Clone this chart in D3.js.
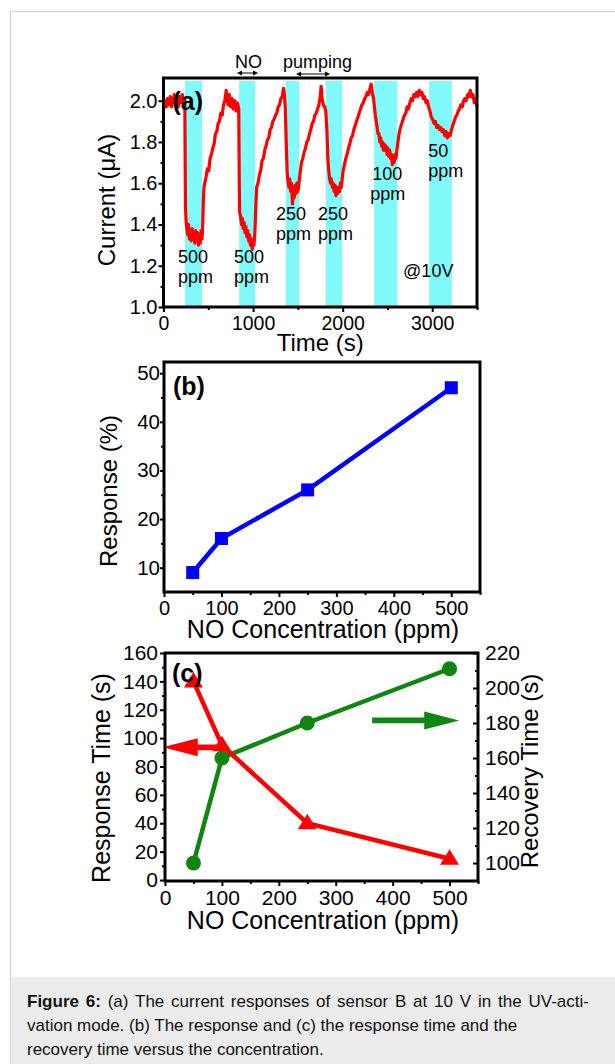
<!DOCTYPE html>
<html>
<head>
<meta charset="utf-8">
<script src="https://cdnjs.cloudflare.com/ajax/libs/d3/7.8.5/d3.min.js"></script>
<style>
  body { margin: 0; background: #fff; }
  svg { display: block; font-family: "Liberation Sans", Arial, sans-serif; }
</style>
</head>
<body>
<div id="figure"></div>
<script>
// (a) current trace, [time (s), current (uA)]
var currentTrace = [
    [0,1.96],[15,2.00],[30,1.97],[45,2.01],[60,1.98],[75,2.02],[90,1.97],[105,2.00],[120,2.03],[135,1.98],
    [150,2.01],[165,1.97],[180,2.02],[195,1.99],[210,2.03],[225,1.98],[238,2.00],
    [242,1.70],[246,1.48],[252,1.42],[260,1.38],[270,1.35],[280,1.40],[290,1.33],[300,1.37],[310,1.32],
    [320,1.38],[330,1.33],[340,1.36],[350,1.31],[360,1.37],[370,1.32],[380,1.36],[390,1.30],[400,1.35],
    [410,1.31],[420,1.37],[430,1.33],[438,1.40],[445,1.52],[452,1.58],[460,1.60],[475,1.63],[490,1.67],
    [505,1.66],[520,1.72],[535,1.74],[550,1.77],[565,1.79],[580,1.84],[595,1.85],[610,1.89],[625,1.90],
    [640,1.94],[655,1.93],[670,1.98],[685,2.00],[700,2.05],[710,2.02],[720,1.98],[735,2.03],[750,1.97],
    [765,2.01],[780,1.96],[795,2.00],[810,1.95],[825,1.99],[840,1.96],
    [846,1.60],[850,1.46],[860,1.44],[870,1.40],[880,1.43],[890,1.38],[900,1.41],[910,1.36],[920,1.39],
    [930,1.34],[940,1.37],[950,1.32],[960,1.35],[970,1.30],[980,1.33],[990,1.28],[1000,1.32],[1010,1.30],
    [1020,1.36],[1030,1.48],[1040,1.58],[1055,1.60],[1070,1.64],[1085,1.66],[1100,1.71],[1115,1.72],
    [1130,1.76],[1145,1.78],[1160,1.81],[1175,1.82],[1190,1.86],[1205,1.87],[1220,1.90],[1235,1.91],
    [1250,1.93],[1265,1.94],[1280,1.97],[1295,1.98],[1310,2.01],[1325,2.02],[1340,2.06],[1350,2.03],
    [1360,1.96],
    [1370,1.80],[1380,1.66],[1390,1.61],[1400,1.58],[1410,1.62],[1420,1.56],[1430,1.60],[1440,1.50],
    [1450,1.58],[1460,1.53],[1470,1.59],[1480,1.55],[1490,1.60],[1500,1.56],[1512,1.60],[1525,1.65],
    [1540,1.70],[1555,1.72],[1570,1.75],[1585,1.77],[1600,1.80],[1615,1.81],[1630,1.84],[1645,1.86],
    [1660,1.89],[1675,1.90],[1690,1.93],[1705,1.94],[1720,1.96],[1735,1.98],[1750,2.02],[1760,2.07],
    [1770,2.01],[1785,1.98],[1800,1.97],[1812,1.95],
    [1825,1.85],[1835,1.72],[1845,1.66],[1855,1.62],[1865,1.60],[1875,1.62],[1885,1.58],[1895,1.60],
    [1905,1.56],[1915,1.59],[1925,1.54],[1935,1.58],[1945,1.55],[1955,1.58],[1965,1.56],[1975,1.60],
    [1985,1.58],[1995,1.62],[2005,1.66],[2020,1.69],[2035,1.72],[2050,1.74],[2065,1.77],[2080,1.79],
    [2095,1.82],[2110,1.83],[2125,1.86],[2140,1.88],[2155,1.90],[2170,1.92],[2185,1.94],[2200,1.96],
    [2215,1.98],[2230,1.99],[2245,2.01],[2260,2.02],[2275,2.04],[2290,2.03],[2305,2.06],[2318,2.08],
    [2330,2.04],[2345,2.01],
    [2355,1.97],[2365,1.93],[2375,1.90],[2385,1.87],[2395,1.84],[2405,1.84],[2415,1.80],[2425,1.82],
    [2435,1.78],[2445,1.80],[2455,1.76],[2465,1.79],[2475,1.76],[2485,1.78],[2495,1.74],[2505,1.77],
    [2515,1.73],[2525,1.76],[2535,1.72],[2545,1.74],[2555,1.69],[2565,1.73],[2575,1.70],[2585,1.74],
    [2595,1.72],[2605,1.76],[2615,1.79],[2630,1.84],[2645,1.87],[2660,1.89],[2675,1.91],[2690,1.93],
    [2705,1.94],[2720,1.97],[2735,1.96],[2750,1.99],[2765,2.01],[2780,2.00],[2795,2.03],[2810,2.02],
    [2825,2.04],[2840,2.02],[2855,2.05],[2870,2.03],[2885,2.04],[2900,2.01],[2915,2.02],[2930,1.99],
    [2945,2.00],[2960,1.97],
    [2975,1.95],[2990,1.92],[3005,1.91],[3020,1.89],[3035,1.90],[3050,1.87],[3065,1.88],[3080,1.86],
    [3095,1.87],[3110,1.85],[3125,1.86],[3140,1.83],[3155,1.85],[3170,1.82],[3185,1.84],[3200,1.83],
    [3215,1.86],[3230,1.88],[3245,1.90],[3260,1.92],[3275,1.93],[3290,1.95],[3305,1.96],[3320,1.98],
    [3335,1.97],[3350,2.00],[3365,2.01],[3380,2.00],[3395,2.03],[3410,2.02],[3425,2.05],[3440,2.02],
    [3455,2.03],[3470,1.99],[3485,2.01],[3500,1.97]
];

// NO on / off intervals (s)
var noStart = [240, 845, 1365, 1812, 2352, 2966];
var noEnd = [430, 1022, 1514, 1994, 2612, 3220];
var pulseConc = ["500", "500", "250", "250", "100", "50"];

// (b) and (c)
var concentration = [50, 100, 250, 500];
var response = [9, 16, 26, 47];
var responseTime = [140, 95, 40, 15];
var recoveryTime = [100, 160, 180, 211];

var timeTicks = [0, 1000, 2000, 3000];
var currentTicks = [1.0, 1.2, 1.4, 1.6, 1.8, 2.0];
var concTicks = [0, 100, 200, 300, 400, 500];
var responseTicks = [10, 20, 30, 40, 50];
var respTimeTicks = [0, 20, 40, 60, 80, 100, 120, 140, 160];
var recTimeTicks = [100, 120, 140, 160, 180, 200, 220];

var W = 615, H = 1064;

var svg = d3.select("#figure")
    .append("svg")
    .attr("width", W)
    .attr("height", H);

// page panel and caption box
svg.append("rect")
    .attr("x", 10.5).attr("y", 11.5)
    .attr("width", W).attr("height", H)
    .attr("fill", "#fff")
    .attr("stroke", "#d8d8d8")
    .attr("stroke-width", 1.5);
svg.append("rect")
    .attr("x", 11.3).attr("y", 977)
    .attr("width", W).attr("height", H - 977)
    .attr("fill", "#ebebeb");

var caption = svg.append("text")
    .attr("font-size", "17px")
    .attr("fill", "#111");
var capLines = [
    [["Figure 6:", true], [" (a) The current responses of sensor B at 10 V in the UV-acti-", false]],
    [["vation mode. (b) The response and (c) the response time and the", false]],
    [["recovery time versus the concentration.", false]]
];
capLines.forEach(function (line, i) {
    line.forEach(function (part, j) {
        var t = caption.append("tspan")
            .attr("font-weight", part[1] ? "bold" : "normal")
            .attr("word-spacing", i == 0 ? "2.1px" : null)
            .text(part[0]);
        if (j == 0) t.attr("x", 27).attr("y", 1007 + i * 24);
    });
});

function frame(g, w, h) {
    g.append("rect")
        .attr("width", w)
        .attr("height", h)
        .attr("fill", "none")
        .attr("stroke", "#000")
        .attr("stroke-width", 3);
}

function styleAxis(sel, size) {
    sel.select(".domain").remove();
    sel.selectAll(".tick line").attr("stroke", "#000").attr("stroke-width", 2);
    sel.selectAll(".tick text")
        .attr("fill", "#000")
        .style("font-size", (size || 20) + "px")
        .style("font-family", "'Liberation Sans', Arial, sans-serif");
}

function minor(g, axis, values, size) {
    g.call(axis.tickValues(values).tickSize(size).tickFormat(""))
        .call(styleAxis);
}

function panelLabel(g, txt, x, y) {
    g.append("text")
        .attr("x", x).attr("y", y)
        .attr("font-size", "25px")
        .attr("font-weight", "bold")
        .text(txt);
}

// ---------------- (a) ----------------
var aL = 163.5, aT = 78, aW = 313.5, aH = 229;
var ga = svg.append("g").attr("transform", "translate(" + aL + "," + aT + ")");

var xa = d3.scaleLinear().domain([0, 3500]).range([0, aW]);
var ya = d3.scaleLinear().domain([1.0, 2.11]).range([aH, 0]);

ga.selectAll(".band")
    .data(noStart)
    .enter()
    .append("rect")
    .attr("class", "band")
    .attr("x", function (d) { return xa(d); })
    .attr("y", 3)
    .attr("width", function (d, i) { return xa(noEnd[i]) - xa(d); })
    .attr("height", aH - 3)
    .attr("fill", "#80fafa");

ga.append("path")
    .datum(currentTrace)
    .attr("fill", "none")
    .attr("stroke", "#ff0000")
    .attr("stroke-width", 3.2)
    .attr("stroke-linejoin", "round")
    .attr("d", d3.line()
        .x(function (d) { return xa(d[0]); })
        .y(function (d) { return ya(d[1]); }));

ga.append("g")
    .attr("transform", "translate(0," + aH + ")")
    .call(d3.axisBottom(xa).tickValues(timeTicks).tickSize(5).tickPadding(4).tickFormat(d3.format("d")))
    .call(styleAxis, 19.5);
minor(ga.append("g").attr("transform", "translate(0," + aH + ")"),
    d3.axisBottom(xa), [500, 1500, 2500, 3500], 3);
ga.append("g")
    .call(d3.axisLeft(ya).tickValues(currentTicks).tickSize(5).tickPadding(1).tickFormat(d3.format(".1f")))
    .call(styleAxis, 20);
minor(ga.append("g"), d3.axisLeft(ya), [1.1, 1.3, 1.5, 1.7, 1.9], 3);
frame(ga, aW, aH);
panelLabel(ga, "(a)", 9, 32);

// concentration labels next to each pulse
var pulsePos = [[162, 1.214], [788, 1.214], [1257, 1.42], [1726, 1.42], [2330, 1.617], [2955, 1.728]];
pulseConc.forEach(function (c, i) {
    var t = ga.append("text")
        .attr("font-size", "18px")
        .attr("x", xa(pulsePos[i][0]))
        .attr("y", ya(pulsePos[i][1]));
    t.append("tspan").text(c);
    t.append("tspan").attr("x", xa(pulsePos[i][0]) - (i == 4 ? 2 : 0)).attr("dy", 20).text("ppm");
});
ga.append("text")
    .attr("font-size", "18px")
    .attr("x", xa(2675))
    .attr("y", ya(1.146))
    .text("@10V");

// NO / pumping annotations above the frame
function dblArrow(x1, x2, y) {
    ga.append("line")
        .attr("x1", x1 + 3).attr("x2", x2 - 3)
        .attr("y1", y).attr("y2", y)
        .attr("stroke", "#000").attr("stroke-width", 1);
    ga.append("path")
        .attr("d", "M" + x1 + "," + y + "l5,-2.5v5z M" + x2 + "," + y + "l-5,-2.5v5z")
        .attr("fill", "#000");
}
ga.append("text")
    .attr("font-size", "18px")
    .attr("text-anchor", "middle")
    .attr("x", xa(950)).attr("y", -10)
    .text("NO");
dblArrow(xa(820), xa(1056), -5);
ga.append("text")
    .attr("font-size", "18px")
    .attr("text-anchor", "middle")
    .attr("x", xa(1720)).attr("y", -10)
    .text("pumping");
dblArrow(xa(1480), xa(1860), -4);

ga.append("text")
    .attr("font-size", "24px")
    .attr("text-anchor", "middle")
    .attr("x", aW / 2).attr("y", 351 - aT)
    .text("Time (s)");
ga.append("text")
    .attr("font-size", "24px")
    .attr("text-anchor", "middle")
    .attr("transform", "translate(" + (115 - aL) + "," + (200 - aT) + ") rotate(-90)")
    .text("Current (\u03bcA)");

// ---------------- (b) ----------------
var bL = 164, bT = 362, bW = 316, bH = 230;
var gb = svg.append("g").attr("transform", "translate(" + bL + "," + bT + ")");

var xb = d3.scaleLinear().domain([0, 550]).range([0, bW]);
var yb = d3.scaleLinear().domain([5, 52.3]).range([bH, 0]);

gb.append("g")
    .attr("transform", "translate(0," + bH + ")")
    .call(d3.axisBottom(xb).tickValues(concTicks).tickSize(5).tickPadding(4))
    .call(styleAxis, 20);
minor(gb.append("g").attr("transform", "translate(0," + bH + ")"),
    d3.axisBottom(xb), [50, 150, 250, 350, 450, 550], 3);
gb.append("g")
    .call(d3.axisLeft(yb).tickValues(responseTicks).tickSize(4).tickPadding(0))
    .call(styleAxis, 20.5);
minor(gb.append("g"), d3.axisLeft(yb), [15, 25, 35, 45], 3);

gb.append("path")
    .datum(concentration)
    .attr("fill", "none")
    .attr("stroke", "#0000ff")
    .attr("stroke-width", 4.5)
    .attr("d", d3.line()
        .x(function (d) { return xb(d); })
        .y(function (d, i) { return yb(response[i]); }));
gb.selectAll(".sq")
    .data(concentration)
    .enter()
    .append("rect")
    .attr("class", "sq")
    .attr("x", function (d) { return xb(d) - 6.5; })
    .attr("y", function (d, i) { return yb(response[i]) - 6.5; })
    .attr("width", 13)
    .attr("height", 13)
    .attr("fill", "#0000ff");
frame(gb, bW, bH);
panelLabel(gb, "(b)", 9, 33);

gb.append("text")
    .attr("font-size", "25px")
    .attr("text-anchor", "middle")
    .attr("x", 323 - bL).attr("y", 638 - bT)
    .text("NO Concentration (ppm)");
gb.append("text")
    .attr("font-size", "24px")
    .attr("text-anchor", "middle")
    .attr("transform", "translate(" + (117 - bL) + "," + (491 - bT) + ") rotate(-90)")
    .text("Response (%)");

// ---------------- (c) ----------------
var cL = 165, cT = 653, cW = 313, cH = 228;
var gc = svg.append("g").attr("transform", "translate(" + cL + "," + cT + ")");

var xc = d3.scaleLinear().domain([0, 550]).range([0, cW]);
var ycL = d3.scaleLinear().domain([0, 160]).range([cH - 1, 0]);
var ycR = d3.scaleLinear().domain([90.3, 220]).range([cH - 1, 0]);

gc.append("g")
    .attr("transform", "translate(0," + cH + ")")
    .call(d3.axisBottom(xc).tickValues(concTicks).tickSize(5).tickPadding(4))
    .call(styleAxis, 21);
minor(gc.append("g").attr("transform", "translate(0," + cH + ")"),
    d3.axisBottom(xc), [50, 150, 250, 350, 450, 550], 3);
gc.append("g")
    .call(d3.axisLeft(ycL).tickValues(respTimeTicks).tickSize(5).tickPadding(2))
    .call(styleAxis, 21);
minor(gc.append("g"), d3.axisLeft(ycL), [10, 30, 50, 70, 90, 110, 130, 150], 3);
gc.append("g")
    .attr("transform", "translate(" + cW + ",0)")
    .call(d3.axisRight(ycR).tickValues(recTimeTicks).tickSizeInner(-5).tickSizeOuter(0).tickPadding(7))
    .call(styleAxis, 21);
minor(gc.append("g").attr("transform", "translate(" + cW + ",0)"),
    d3.axisRight(ycR), [110, 130, 150, 170, 190, 210], -3);

gc.append("path")
    .datum(concentration)
    .attr("fill", "none")
    .attr("stroke", "#108510")
    .attr("stroke-width", 4.5)
    .attr("d", d3.line()
        .x(function (d) { return xc(d); })
        .y(function (d, i) { return ycR(recoveryTime[i]); }));
gc.selectAll(".dot")
    .data(concentration)
    .enter()
    .append("circle")
    .attr("class", "dot")
    .attr("cx", function (d) { return xc(d); })
    .attr("cy", function (d, i) { return ycR(recoveryTime[i]); })
    .attr("r", 7.5)
    .attr("fill", "#108510");

gc.append("path")
    .datum(concentration)
    .attr("fill", "none")
    .attr("stroke", "#ff0000")
    .attr("stroke-width", 4.5)
    .attr("d", d3.line()
        .x(function (d) { return xc(d); })
        .y(function (d, i) { return ycL(responseTime[i]); }));
gc.selectAll(".tri")
    .data(concentration)
    .enter()
    .append("path")
    .attr("class", "tri")
    .attr("transform", function (d, i) {
        return "translate(" + xc(d) + "," + ycL(responseTime[i]) + ")";
    })
    .attr("d", "M0,-9.5L9.5,6L-9.5,6Z")
    .attr("fill", "#ff0000");

// axis pointers
function fatArrow(x1, x2, y, color) {
    var dir = x2 > x1 ? 1 : -1;
    var hx = x2 - dir * 35;
    gc.append("path")
        .attr("d", "M" + x1 + "," + (y - 2.8) + "L" + hx + "," + (y - 2.8) + "L" + hx + "," + (y - 9) +
            "L" + x2 + "," + y + "L" + hx + "," + (y + 9) + "L" + hx + "," + (y + 2.8) +
            "L" + x1 + "," + (y + 2.8) + "Z")
        .attr("fill", color);
}
fatArrow(xc(102), xc(-4), ycL(93.5), "#ff0000");
fatArrow(xc(364), xc(517), ycR(181.5), "#108510");

frame(gc, cW, cH);
panelLabel(gc, "(c)", 7, 29);

gc.append("text")
    .attr("font-size", "25px")
    .attr("text-anchor", "middle")
    .attr("x", 323 - cL).attr("y", 929 - cT)
    .text("NO Concentration (ppm)");
gc.append("text")
    .attr("font-size", "25px")
    .attr("text-anchor", "middle")
    .attr("transform", "translate(" + (110 - cL) + "," + (778 - cT) + ") rotate(-90)")
    .text("Response Time (s)");
gc.append("text")
    .attr("font-size", "24px")
    .attr("text-anchor", "middle")
    .attr("transform", "translate(" + (538 - cL) + "," + (771 - cT) + ") rotate(-90)")
    .text("Recovery Time (s)");
</script>
</body>
</html>
